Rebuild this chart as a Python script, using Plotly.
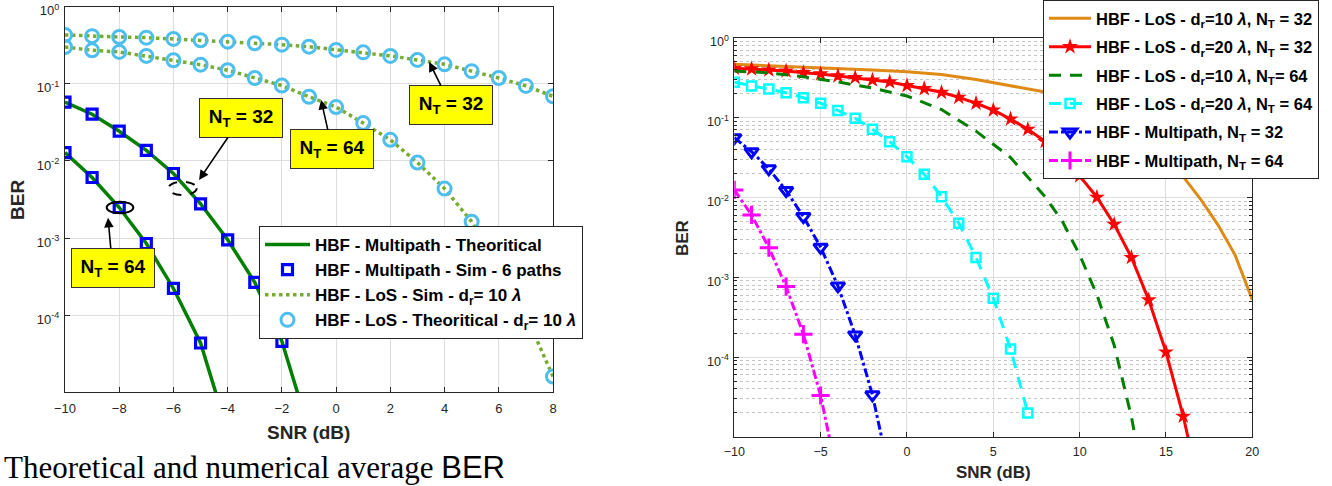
import plotly.graph_objects as go

# ---------------- Left panel data ----------------
los_snr = [-10, -9, -8, -7, -6, -5, -4, -3, -2, -1, 0, 1, 2, 3, 4, 5, 6, 7, 8]
los32_ber = [0.43, 0.415, 0.405, 0.397, 0.382, 0.367, 0.352, 0.336, 0.322, 0.303,
             0.275, 0.256, 0.23, 0.204, 0.179, 0.146, 0.119, 0.094, 0.069]
los64_ber = [0.30, 0.272, 0.259, 0.23, 0.202, 0.177, 0.15, 0.119, 0.095, 0.068,
             0.050, 0.031, 0.0188, 0.00953, 0.00438, 0.00163, 4.5e-4, 1.0e-4, 1.6e-5]

mp32_th_snr = [-10, -9, -8, -7, -6, -5, -4, -3, -2, -1]
mp32_th_ber = [0.0578, 0.0404, 0.0243, 0.0137, 0.00687, 0.00278, 9.5e-4, 2.66e-4, 4.58e-5, 3.2e-6]
mp32_sim_snr = [-10, -9, -8, -7, -6, -5, -4, -3, -2]
mp32_sim_ber = [0.0578, 0.0404, 0.0243, 0.0137, 0.00687, 0.00278, 9.5e-4, 2.66e-4, 4.58e-5]

mp64_th_snr = [-10, -9, -8, -7, -6, -5, -4]
mp64_th_ber = [0.01285, 0.0061, 0.00249, 8.5e-4, 2.22e-4, 4.36e-5, 3.1e-6]
mp64_sim_snr = [-10, -9, -8, -7, -6, -5]
mp64_sim_ber = [0.01285, 0.0061, 0.00249, 8.5e-4, 2.22e-4, 4.36e-5]

# ---------------- Right panel data ----------------
orange_snr = [-10, -8, -6, -4, -2, 0, 2, 4, 6, 8, 10, 12, 14, 15, 16, 17, 18, 19, 20]
orange_ber = [0.464, 0.447, 0.425, 0.407, 0.394, 0.376, 0.347, 0.299, 0.251, 0.209,
              0.151, 0.0955, 0.0501, 0.0316, 0.0182, 0.00955, 0.00457, 0.00191, 5.25e-4]

red_snr = list(range(-10, 18))
red_ber = [0.414, 0.406, 0.394, 0.383, 0.365, 0.352, 0.332, 0.316, 0.295, 0.279,
           0.251, 0.230, 0.207, 0.179, 0.151, 0.124, 0.0959, 0.0713, 0.0501, 0.0316,
           0.0186, 0.01005, 0.00461, 0.00177, 5.21e-4, 1.16e-4, 1.82e-5, 2.0e-6]

green_snr = [-10, -8, -6, -5, -4, -2, 0, 2, 4, 6, 8, 9, 10, 11, 12, 13, 14]
green_ber = [0.383, 0.363, 0.324, 0.302, 0.279, 0.234, 0.186, 0.126, 0.0676, 0.0316,
             0.0102, 0.00501, 0.00191, 6.03e-4, 1.41e-4, 1.78e-5, 1.26e-6]

cyan_snr = list(range(-10, 8))
cyan_ber = [0.277, 0.249, 0.228, 0.205, 0.177, 0.151, 0.123, 0.098, 0.0713, 0.0499,
            0.0324, 0.0195, 0.0102, 0.00475, 0.00177, 5.47e-4, 1.26e-4, 2.0e-5]

blue_snr = [-10, -9, -8, -7, -6, -5, -4, -3, -2, -1]
blue_ber = [0.056, 0.0374, 0.0228, 0.0122, 0.00575, 0.00238, 7.8e-4, 1.9e-4, 3.37e-5, 3.4e-6]

mag_snr = [-10, -9, -8, -7, -6, -5, -4]
mag_ber = [0.0124, 0.00604, 0.00235, 7.65e-4, 1.94e-4, 3.31e-5, 3.0e-6]

ytick_vals = [1, 1e-1, 1e-2, 1e-3, 1e-4]
ytick_text = ["10<sup>0</sup>", "10<sup>-1</sup>", "10<sup>-2</sup>", "10<sup>-3</sup>", "10<sup>-4</sup>"]
minor_vals = [k * 10 ** e for e in range(-5, 0) for k in range(2, 10)]

W, H = 1332, 486
FONT = "Liberation Sans"
AX = "#262626"
GRID = "#dedede"

fig = go.Figure()

# ---- left panel traces ----
for ber, show in [(los32_ber, True), (los64_ber, False)]:
    fig.add_trace(go.Scatter(
        x=los_snr, y=ber, mode="lines", xaxis="x", yaxis="y",
        line=dict(color="#77ac30", width=3.5, dash="dot"),
        name="HBF - LoS - Sim - d<sub>r</sub>= 10 <i>λ</i>",
        legendgroup="lossim", showlegend=show, legend="legend", legendrank=3))
for ber, show in [(los32_ber, True), (los64_ber, False)]:
    fig.add_trace(go.Scatter(
        x=los_snr, y=ber, mode="markers", xaxis="x", yaxis="y",
        marker=dict(symbol="circle-open", size=13, color="#4dbeee", line=dict(width=3)),
        name="HBF - LoS - Theoritical - d<sub>r</sub>= 10 <i>λ</i>",
        legendgroup="losth", showlegend=show, legend="legend", legendrank=4))
for sx, sy, show in [(mp32_th_snr, mp32_th_ber, True), (mp64_th_snr, mp64_th_ber, False)]:
    fig.add_trace(go.Scatter(
        x=sx, y=sy, mode="lines", xaxis="x", yaxis="y",
        line=dict(color="#007f00", width=3.5),
        name="HBF - Multipath - Theoritical",
        legendgroup="mpth", showlegend=show, legend="legend", legendrank=1))
for sx, sy, show in [(mp32_sim_snr, mp32_sim_ber, True), (mp64_sim_snr, mp64_sim_ber, False)]:
    fig.add_trace(go.Scatter(
        x=sx, y=sy, mode="markers", xaxis="x", yaxis="y",
        marker=dict(symbol="square-open", size=10, color="#0000ff", line=dict(width=3.2)),
        name="HBF - Multipath - Sim - 6 paths",
        legendgroup="mpsim", showlegend=show, legend="legend", legendrank=2))

# ---- right panel traces ----
right_specs = [
    (orange_snr, orange_ber, "lines", dict(color="#e08a16", width=3), None,
     "HBF - LoS - d<sub>r</sub>=10 <i>λ</i>, N<sub>T</sub> = 32"),
    (red_snr, red_ber, "lines+markers", dict(color="#ff0000", width=3),
     dict(symbol="star", size=12, color="#ff0000"),
     "HBF - LoS - d<sub>r</sub>=20 <i>λ</i>, N<sub>T</sub> = 32"),
    (green_snr, green_ber, "lines", dict(color="#007f00", width=3, dash="12px,9px"), None,
     "HBF - LoS - d<sub>r</sub>=10 <i>λ</i>, N<sub>T</sub>= 64"),
    (cyan_snr, cyan_ber, "lines+markers", dict(color="#00ffff", width=3, dash="12px,9px"),
     dict(symbol="square-open", size=9, color="#00ffff", line=dict(width=2.5)),
     "HBF - LoS - d<sub>r</sub>=20 <i>λ</i>, N<sub>T</sub> = 64"),
    (blue_snr, blue_ber, "lines+markers", dict(color="#0000ff", width=3, dash="dashdot"),
     dict(symbol="triangle-down-open", size=12, color="#0000ff", line=dict(width=3)),
     "HBF - Multipath, N<sub>T</sub> = 32"),
    (mag_snr, mag_ber, "lines+markers", dict(color="#ff00ff", width=3, dash="dashdot"),
     dict(symbol="cross-thin-open", size=13, color="#ff00ff", line=dict(width=3)),
     "HBF - Multipath, N<sub>T</sub> = 64"),
]
for i, (sx, sy, mode, line, marker, name) in enumerate(right_specs):
    kw = dict(marker=marker) if marker else {}
    fig.add_trace(go.Scatter(x=sx, y=sy, mode=mode, xaxis="x2", yaxis="y2", line=line,
                             name=name, legend="legend2", legendgroup="r%d" % i,
                             legendrank=10 + i, **kw))

def axis_style(fs):
    return dict(showline=True, linecolor=AX, linewidth=1, mirror="ticks", ticks="inside",
                ticklen=5, tickcolor=AX, showgrid=True, gridcolor=GRID, zeroline=False,
                tickfont=dict(family=FONT, size=fs, color=AX), automargin=False,
                ticklabeloverflow="allow")

fig.update_layout(
    template="none",
    width=W, height=H,
    margin=dict(l=0, r=0, t=0, b=0),
    paper_bgcolor="white", plot_bgcolor="white",
    showlegend=True,
    xaxis=dict(domain=[65 / W, 553 / W], range=[-10, 8], tickvals=list(range(-10, 9, 2)),
               anchor="y", ticklabelstandoff=4, **axis_style(13)),
    yaxis=dict(domain=[1 - 392.3 / H, 1 - 6.7 / H], type="log", range=[-5, 0],
               tickvals=ytick_vals, ticktext=ytick_text, anchor="x", ticklabelstandoff=2,
               ticklabelshift=4, **axis_style(13)),
    xaxis2=dict(domain=[734.3 / W, 1252.3 / W], range=[-10, 20], tickvals=list(range(-10, 21, 5)),
                anchor="y2", ticklabelstandoff=3, **axis_style(12.5)),
    yaxis2=dict(domain=[1 - 437 / H, 1 - 37.7 / H], type="log", range=[-5, 0],
                tickvals=ytick_vals, ticktext=ytick_text, anchor="x2", ticklabelstandoff=2,
                ticklabelshift=4,
                minor=dict(tickvals=minor_vals, ticks="inside", ticklen=3, tickcolor=AX,
                           showgrid=True, gridcolor="#c4c4c4", griddash="dot", gridwidth=1),
                **axis_style(12.5)),
    legend=dict(x=259 / W, y=1 - 226 / H, xanchor="left", yanchor="top",
                bgcolor="white", bordercolor=AX, borderwidth=1, itemwidth=45,
                font=dict(family=FONT, size=17, color="black", weight="bold"),
                tracegroupgap=0),
    legend2=dict(x=1043 / W, y=1.0, xanchor="left", yanchor="top",
                 bgcolor="white", bordercolor=AX, borderwidth=1, itemwidth=42,
                 traceorder="grouped", tracegroupgap=4,
                 font=dict(family=FONT, size=16.5, color="black", weight="bold")),
)

ann_font = dict(family=FONT, size=19, color="black", weight="bold")
box_specs = [
    (-5.055, -2.247, 42, -62, "32"),
    (-8.413, -2.737, 4.5, 50, "64"),
    (3.432, -0.716, 21.5, 43.5, "32"),
    (-0.554, -1.209, 11, 49, "64"),
]
for hx, hy, ax, ay, n in box_specs:
    fig.add_annotation(x=hx, y=hy, xref="x", yref="y", ax=ax, ay=ay,
                       text="N<sub>T</sub> = " + n, showarrow=True, arrowhead=2,
                       arrowsize=1.2, arrowwidth=1.6, arrowcolor="black",
                       bgcolor="#ffff00", bordercolor="#333333", borderwidth=1,
                       width=80, height=36, font=ann_font)

# highlight ellipses (paper coordinates)
fig.add_shape(type="circle", xref="paper", yref="paper",
              x0=168.3 / W, x1=196.7 / W, y0=1 - 195 / H, y1=1 - 181.7 / H,
              line=dict(color="black", width=2, dash="dash"))
fig.add_shape(type="circle", xref="paper", yref="paper",
              x0=106.7 / W, x1=133.3 / W, y0=1 - 213.3 / H, y1=1 - 201.7 / H,
              line=dict(color="black", width=2))

common_txt = dict(xref="paper", yref="paper", showarrow=False, xanchor="center", yanchor="middle")
fig.add_annotation(x=308 / W, y=1 - 432 / H, text="SNR (dB)",
                   font=dict(family=FONT, size=19, color=AX, weight="bold"), **common_txt)
fig.add_annotation(x=17 / W, y=1 - 200 / H, text="BER", textangle=-90,
                   font=dict(family=FONT, size=19, color=AX, weight="bold"), **common_txt)
fig.add_annotation(x=993 / W, y=1 - 472 / H, text="SNR (dB)",
                   font=dict(family=FONT, size=17, color=AX, weight="bold"), **common_txt)
fig.add_annotation(x=682 / W, y=1 - 238 / H, text="BER", textangle=-90,
                   font=dict(family=FONT, size=17, color=AX, weight="bold"), **common_txt)
fig.add_annotation(x=0.002, y=0, xref="paper", yref="paper", xanchor="left",
                   yanchor="bottom", borderpad=0,
                   text="Theoretical and numerical average "
                        "<span style='font-family:Liberation Sans'>BER</span>",
                   showarrow=False,
                   font=dict(family="Liberation Serif", size=31, color="black"))

fig.write_html("out.html", config={"displayModeBar": False},
               post_script="document.body.style.margin='0px';")
